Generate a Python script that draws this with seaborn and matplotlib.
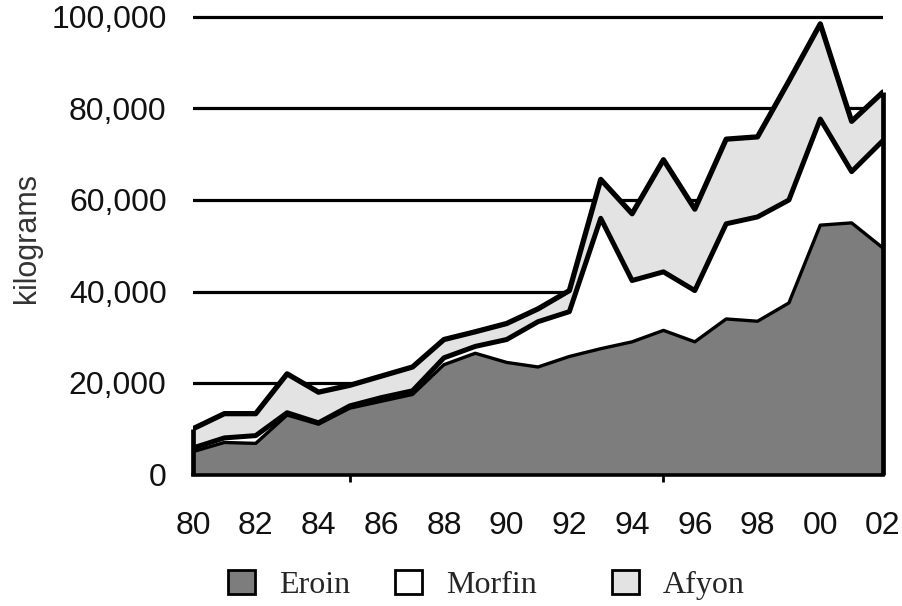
import numpy as np
import pandas as pd
import matplotlib
matplotlib.use("Agg")
import matplotlib.pyplot as plt
import seaborn as sns
from matplotlib.patches import Patch
from matplotlib.ticker import FixedLocator, FuncFormatter

# ---- data (kilograms) ----
years = list(range(1980, 2003))
eroin = [5000, 7000, 6800, 13000, 11000, 14500, 16000, 17500, 24000, 26500, 24500, 23500,
         25800, 27500, 29000, 31500, 29000, 34000, 33500, 37500, 54500, 55000, 49500]
morfin = [800, 1000, 1700, 500, 300, 500, 800, 800, 1500, 1500, 5000, 9900,
          9800, 28500, 13400, 12800, 11200, 20800, 22800, 22500, 23200, 11200, 23500]
afyon = [4200, 5300, 4800, 8500, 6700, 4500, 4700, 5200, 4000, 3200, 3500, 2800,
         4600, 8500, 14600, 24500, 17800, 18500, 17500, 26000, 20800, 11000, 10600]
series_names = ["Eroin", "Morfin", "Afyon"]
y_ticks = [0, 20000, 40000, 60000, 80000, 100000]
x_label_years = list(range(1980, 2003, 2))
x_mark_years = [1980, 1985, 1990, 1995, 2000]

sns.set_theme(style="white")
plt.rcParams["font.family"] = ["Liberation Sans", "DejaVu Sans"]

df = pd.DataFrame({"year": years, "Eroin": eroin, "Morfin": morfin, "Afyon": afyon})
df["c1"] = df["Eroin"]
df["c2"] = df["c1"] + df["Morfin"]
df["c3"] = df["c2"] + df["Afyon"]

W, H = 902, 606
fig = plt.figure(figsize=(W / 100, H / 100), dpi=100)
px_per = 4.575 / 1000.0
ytop = 101000
bottom_px = 474.5
top_px = bottom_px - ytop * px_per
ax = fig.add_axes([193 / W, 1 - bottom_px / H, (883 - 193) / W, (bottom_px - top_px) / H])

colors = ["#7d7d7d", "#ffffff", "#e3e3e3"]
ax.stackplot(df["year"], df["Eroin"], df["Morfin"], df["Afyon"],
             colors=colors, linewidth=0, zorder=2)

sns.lineplot(x=df["year"], y=df["c1"], color="black", linewidth=2.4, ax=ax, zorder=3)
sns.lineplot(x=df["year"], y=df["c2"], color="black", linewidth=3.6, ax=ax, zorder=4)
sns.lineplot(x=df["year"], y=df["c3"], color="black", linewidth=3.8, ax=ax, zorder=5)
ax.vlines([df["year"].iloc[0], df["year"].iloc[-1]], 0,
          [df["c3"].iloc[0], df["c3"].iloc[-1]], color="black", linewidth=3.4,
          zorder=6, clip_on=False)

ax.set_xlim(1980, 2002)
ax.set_ylim(0, ytop)
ax.set_yticks(y_ticks)
ax.yaxis.set_major_formatter(FuncFormatter(lambda v, p: f"{int(v):,}"))
ax.yaxis.grid(True, color="black", linewidth=2.3)
ax.xaxis.grid(False)
ax.set_axisbelow(True)

ax.xaxis.set_major_locator(FixedLocator(x_label_years))
ax.xaxis.set_major_formatter(FuncFormatter(lambda v, p: f"{int(round(v)) % 100:02d}"))
ax.xaxis.set_minor_locator(FixedLocator(x_mark_years))
ax.tick_params(axis="x", which="major", length=0, labelsize=23, pad=26, colors="black")
ax.tick_params(axis="x", which="minor", bottom=True, length=5, width=2,
               direction="out", color="black")
ax.tick_params(axis="y", length=0, labelsize=23, pad=19, colors="black")
for lab in ax.get_xticklabels() + ax.get_yticklabels():
    lab.set_color("#111111")

for s in ["left", "right", "top"]:
    ax.spines[s].set_visible(False)
ax.spines["bottom"].set_color("black")
ax.spines["bottom"].set_linewidth(2.6)
ax.spines["bottom"].set_zorder(7)
ax.set_xlabel("")
ax.set_ylabel("")

fig.text(27 / W, 1 - 237.5 / H, "kilograms", rotation=90, ha="center", va="center",
         fontsize=22, color="#333333")

leg_x = [228, 395, 612]
for name, col, lx in zip(series_names, colors, leg_x):
    fig.legend(handles=[Patch(facecolor=col, edgecolor="black", linewidth=2)],
               labels=[name], loc="center left",
               bbox_to_anchor=(lx / W, 1 - 585 / H), frameon=False,
               borderpad=0, borderaxespad=0, handlelength=0.86, handleheight=0.8,
               handletextpad=0.73,
               prop={"family": "Liberation Serif", "size": 23})

fig.savefig("out.png", dpi=100)
